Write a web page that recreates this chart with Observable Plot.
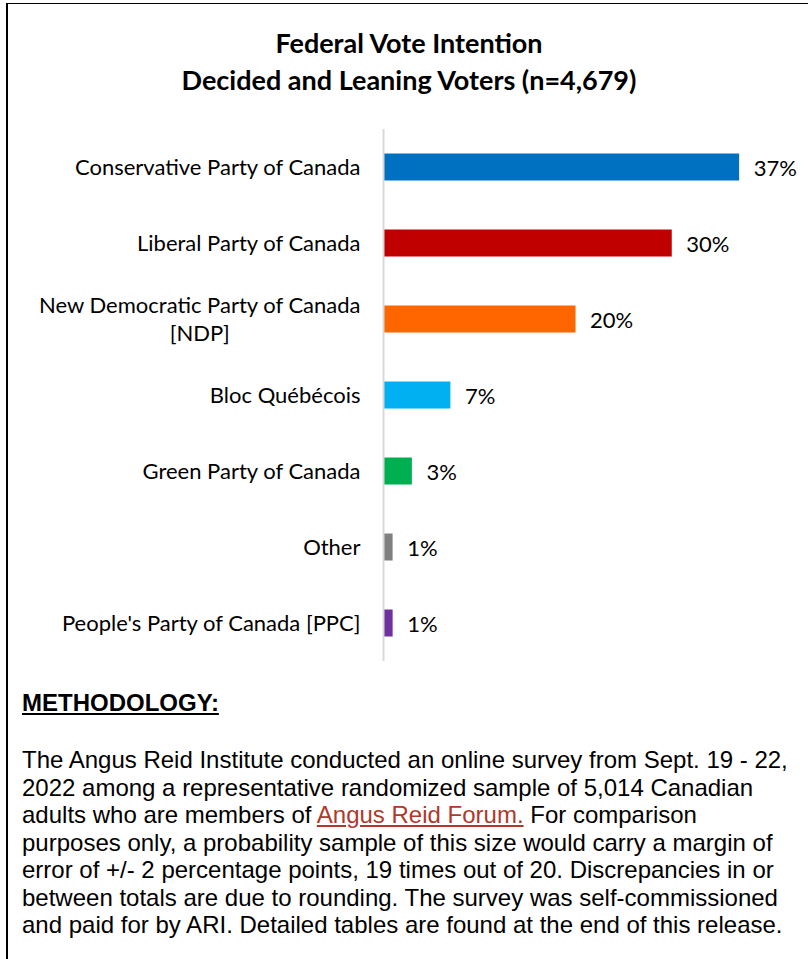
<!DOCTYPE html>
<html>
<head>
<meta charset="utf-8">
<script src="https://cdn.jsdelivr.net/npm/d3@7"></script>
<script src="https://cdn.jsdelivr.net/npm/@observablehq/plot@0.6"></script>
<style>
  html, body { margin: 0; padding: 0; background: #fff; }
  #page { position: relative; width: 808px; height: 959px; overflow: hidden; background: #fff; }
  #topline { position: absolute; left: 6px; top: 3px; width: 802px; height: 0; border-top: 1px solid #000; }
  #leftline { position: absolute; left: 6px; top: 3px; width: 0; height: 956px; border-left: 2px solid #000; }
  #title { position: absolute; left: 10px; width: 798px; top: 24px; text-align: center;
           font-family: Lato, "Noto Sans", sans-serif; font-weight: 700; font-size: 27px; line-height: 37px; color: #000; }
  #chart { position: absolute; left: 0; top: 100px; }
  #method { position: absolute; left: 22px; top: 689px; width: 790px;
            font-family: "Liberation Sans", Arial, sans-serif; font-size: 24px; color: #000; }
  #method .head { font-weight: 700; text-decoration: underline; line-height: 28px; }
  #method .body { margin-top: 29px; line-height: 27.5px; white-space: nowrap; }
  #method a { color: #b0392b; text-decoration: underline; }
</style>
</head>
<body>
<div id="page">
  <div id="topline"></div>
  <div id="leftline"></div>
  <div id="title">Federal Vote Intention<br>Decided and Leaning Voters (n=4,679)</div>
  <div id="chart"></div>
  <div id="method">
    <div class="head">METHODOLOGY:</div>
    <div class="body">The Angus Reid Institute conducted an online survey from Sept. 19 - 22,<br>2022 among a representative randomized sample of 5,014 Canadian<br>adults who are members of <a>Angus Reid Forum.</a> For comparison<br>purposes only, a probability sample of this size would carry a margin of<br>error of +/- 2 percentage points, 19 times out of 20. Discrepancies in or<br>between totals are due to rounding. The survey was self-commissioned<br>and paid for by ARI. Detailed tables are found at the end of this release.</div>
  </div>
</div>
<script>
const parties = [
  "Conservative Party of Canada",
  "Liberal Party of Canada",
  "New Democratic Party of Canada\n[NDP]",
  "Bloc Québécois",
  "Green Party of Canada",
  "Other",
  "People's Party of Canada [PPC]"
];
const values = [37, 30, 20, 7, 3, 1, 1];
const colors = ["#0070c0", "#c00000", "#ff6600", "#00b0f0", "#00b050", "#808080", "#7030a0"];
const valueLabels = values.map(v => v + "%");

const data = parties.map((p, i) => ({party: p, value: values[i], label: valueLabels[i]}));

const chart = Plot.plot({
  width: 808,
  height: 580,
  marginTop: 29,
  marginBottom: 19,
  marginLeft: 383,
  marginRight: 40,
  style: {fontFamily: "Lato, 'Noto Sans', sans-serif", background: "transparent", color: "#000"},
  x: {domain: [0, 40], axis: null},
  y: {domain: parties, padding: 0, axis: null},
  color: {domain: parties, range: colors},
  marks: [
    Plot.barX(data, {x: "value", y: "party", fill: "party", insetTop: 24.5, insetBottom: 24.5}),
    Plot.ruleX([0], {stroke: "#d9d9d9", strokeWidth: 2}),
    Plot.text(data, {x: 0, y: "party", text: "party", textAnchor: "end", dx: -23, dy: -1, fontSize: 22, lineHeight: 1.27, fill: "#000", className: "ylab"}),
    Plot.text(data, {x: "value", y: "party", text: "label", textAnchor: "start", dx: 14, dy: 1, fontSize: 22, fill: "#000"})
  ]
});
document.getElementById("chart").appendChild(chart);

// center-align the lines of multi-line category labels (as in the original)
chart.querySelectorAll(".ylab text").forEach(t => {
  const spans = t.querySelectorAll("tspan");
  if (spans.length > 1) {
    let w = 0;
    spans.forEach(s => { w = Math.max(w, s.getComputedTextLength()); });
    spans.forEach(s => { s.setAttribute("x", -w / 2); s.setAttribute("text-anchor", "middle"); });
  }
});
</script>
</body>
</html>
